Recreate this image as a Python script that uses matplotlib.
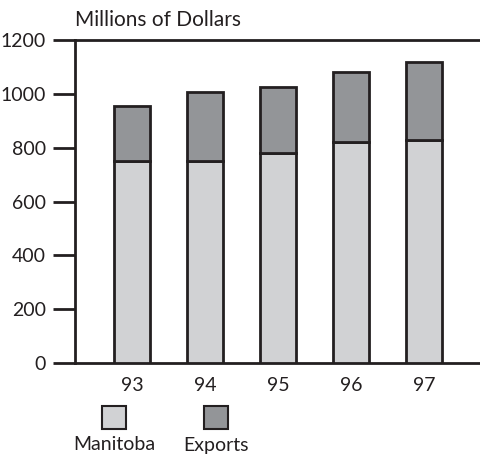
import matplotlib
matplotlib.use("Agg")
import matplotlib.pyplot as plt
from matplotlib.patches import Rectangle

years = ["93", "94", "95", "96", "97"]
manitoba = [750, 750, 780, 820, 830]
totals = [955, 1005, 1025, 1080, 1120]
exports = [t - m for t, m in zip(totals, manitoba)]
series_names = ["Manitoba", "Exports"]
colors = ["#d1d2d4", "#939598"]
edge = "#231f20"

plt.rcParams['font.family'] = ['Lato', 'DejaVu Sans']

W, H = 481, 455
fig = plt.figure(figsize=(W / 100, H / 100), dpi=100)
ax = fig.add_axes([75 / W, 1 - 363 / H, 1 - 75 / W + 0.01, (363 - 40) / H])

x = list(range(len(years)))
ax.bar(x, manitoba, width=0.5, color=colors[0], edgecolor=edge, linewidth=2, zorder=3)
ax.bar(x, exports, bottom=manitoba, width=0.5, color=colors[1], edgecolor=edge, linewidth=2, zorder=3)

ax.set_xlim(-0.78, 4.85)
ax.set_ylim(0, 1200)
ax.set_yticks(range(0, 1201, 200))
ax.set_xticks(x)
ax.set_xticklabels(years)
ax.tick_params(axis='y', direction='out', length=16, width=2, color=edge, labelsize=14, pad=5, labelcolor=edge)
ax.tick_params(axis='x', length=0, labelsize=14, pad=10, labelcolor=edge)
for s in ['left', 'top', 'bottom']:
    ax.spines[s].set_linewidth(2)
    ax.spines[s].set_color(edge)
ax.spines['right'].set_visible(False)

fig.text(75 / W, 1 - 20 / H, "Millions of Dollars", fontsize=15, color=edge, va='center', ha='left')

# legend
legend_x = [102, 204]
for name, c, lx in zip(series_names, colors, legend_x):
    fig.patches.append(Rectangle((lx / W, 1 - 429 / H), 24 / W, 23 / H, transform=fig.transFigure,
                                 facecolor=c, edgecolor=edge, linewidth=1.5))
    fig.text((lx + 12) / W, 1 - 445 / H, name, fontsize=14, color=edge, ha='center', va='center')

fig.savefig("out.png", dpi=100)
